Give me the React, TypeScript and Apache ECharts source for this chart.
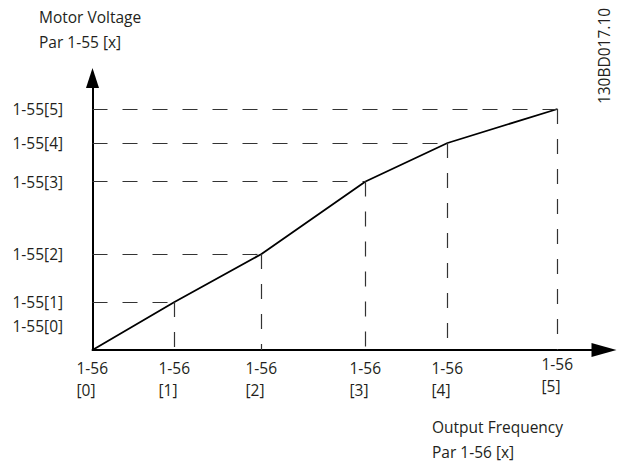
import React, { useEffect, useRef } from "react";
import * as echarts from "echarts";

// Break points of the V/f curve (axis units)
const frequencyPoints = [0, 82, 169, 273, 355, 465];
const voltagePoints = [0, 48, 96, 168.5, 207, 241];

const xTickPrefix = "1-56";
const xTickIndexLabels = ["[0]", "[1]", "[2]", "[3]", "[4]", "[5]"];
const yTickLabels = ["1-55[0]", "1-55[1]", "1-55[2]", "1-55[3]", "1-55[4]", "1-55[5]"];
const yAxisTitle = ["Motor Voltage", "Par 1-55 [x]"];
const xAxisTitle = ["Output Frequency", "Par 1-56 [x]"];
const drawingCode = "130BD017.10";

const FONT = "Open Sans";
const FS = 15.5;
const TXT = "#231f20";

export default function App() {
  const ref = useRef<HTMLDivElement>(null);
  useEffect(() => {
    const chart = echarts.init(ref.current!, null, { renderer: "svg" });
    const pts = frequencyPoints.map((f, i) => [f, voltagePoints[i]]);
    const guides: any[] = [];
    for (let i = 1; i < pts.length; i++) {
      guides.push([
        { coord: [0, voltagePoints[i]] },
        { coord: [frequencyPoints[i], voltagePoints[i]] },
      ]);
      guides.push([
        { coord: [frequencyPoints[i], voltagePoints[i]] },
        { coord: [frequencyPoints[i], 0] },
      ]);
    }
    const base = { fontFamily: FONT, fontSize: FS, color: TXT };
    const font = `${FS}px "${FONT}"`;
    chart.setOption({
      animation: false,
      backgroundColor: "#fff",
      grid: { left: 92.5, top: 78, width: 511.5, height: 272, containLabel: false },
      xAxis: {
        type: "value",
        min: 0,
        max: 511.5,
        splitLine: { show: false },
        axisTick: { show: false },
        axisLine: {
          show: true,
          lineStyle: { color: "#000", width: 2 },
          symbol: ["none", "triangle"],
          symbolSize: [14, 25],
        },
        axisLabel: {
          customValues: frequencyPoints,
          margin: 7,
          align: "center",
          verticalAlign: "top",
          formatter: (v: number) => {
            const i = frequencyPoints.indexOf(v);
            if (i < 0) return "";
            if (i === frequencyPoints.length - 1)
              return `{t|${xTickPrefix}}\n{u|${xTickIndexLabels[i]}}`;
            return `{a|${xTickPrefix}}\n{a|${xTickIndexLabels[i]}}`;
          },
          rich: {
            a: { ...base, width: 32, align: "left", lineHeight: 22 },
            t: { ...base, width: 32, align: "left", lineHeight: 14 },
            u: { ...base, width: 32, align: "left", lineHeight: 30 },
          },
        },
      },
      yAxis: {
        type: "value",
        min: 0,
        max: 272,
        splitLine: { show: false },
        axisTick: { show: false },
        axisLine: {
          show: true,
          lineStyle: { color: "#000", width: 2 },
          symbol: ["none", "triangle"],
          symbolSize: [13, 20],
        },
        axisLabel: {
          customValues: voltagePoints,
          margin: 80,
          align: "left",
          formatter: (v: number) => {
            const i = voltagePoints.indexOf(v);
            if (i < 0) return "";
            if (i === 0) return `{a|${yTickLabels[0]}}\n{s| }`;
            return `{a|${yTickLabels[i]}}`;
          },
          rich: {
            a: { ...base, lineHeight: 18 },
            s: { fontFamily: FONT, fontSize: 10, lineHeight: 48 },
          },
        },
      },
      series: [
        {
          type: "line",
          data: pts,
          symbol: "none",
          lineStyle: { color: "#000", width: 1.8 },
          markLine: {
            silent: true,
            symbol: ["none", "none"],
            label: { show: false },
            emphasis: { disabled: true },
            lineStyle: { type: [15, 15], color: "#333", width: 1.2 },
            data: guides,
          },
        },
      ],
      graphic: [
        { type: "text", left: 39, top: 9, style: { text: yAxisTitle[0], font, fill: TXT } },
        { type: "text", left: 39, top: 34, style: { text: yAxisTitle[1], font, fill: TXT } },
        { type: "text", left: 432, top: 419, style: { text: xAxisTitle[0], font, fill: TXT } },
        { type: "text", left: 432, top: 444, style: { text: xAxisTitle[1], font, fill: TXT } },
        {
          type: "text",
          x: 604,
          y: 56,
          rotation: Math.PI / 2,
          style: { text: drawingCode, font, fill: TXT, align: "center", verticalAlign: "middle" },
        },
      ],
    });
    return () => chart.dispose();
  }, []);
  return (
    <div
      ref={ref}
      style={{ position: "fixed", left: 0, top: 0, width: 618, height: 464, background: "#fff" }}
    />
  );
}
